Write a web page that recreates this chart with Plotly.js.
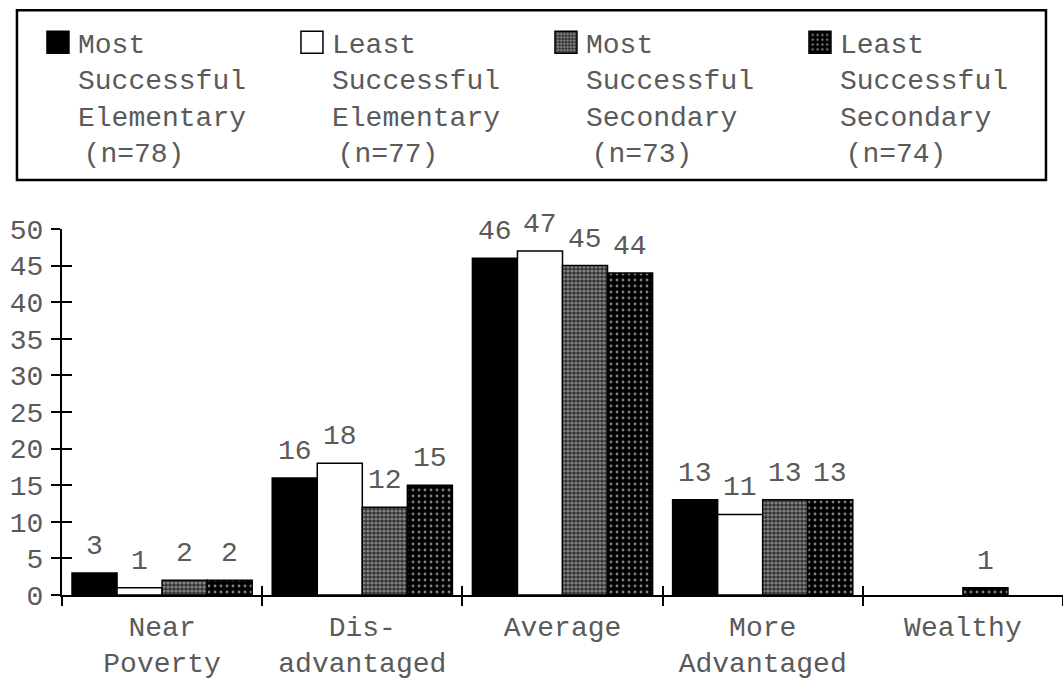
<!DOCTYPE html>
<html>
<head>
<meta charset="utf-8">
<script src="https://cdn.plot.ly/plotly-3.0.1.min.js"></script>
<style>
  html, body { margin: 0; padding: 0; background: #fff; }
  #chart { width: 1063px; height: 679px; }
</style>
</head>
<body>
<div id="chart"></div>
<script>
// Socioeconomic level of school communities, by school group
const categories = ['Near<br>Poverty', 'Dis-<br>advantaged', 'Average', 'More<br>Advantaged', 'Wealthy'];

const seriesNames = [
  'Most<br>Successful<br>Elementary<br>\u2009(n=78)',
  'Least<br>Successful<br>Elementary<br>\u2009(n=77)',
  'Most<br>Successful<br>Secondary<br>\u2009(n=73)',
  'Least<br>Successful<br>Secondary<br>\u2009(n=74)'
];

const mostElementary  = [3, 16, 46, 13, 0];
const leastElementary = [1, 18, 47, 11, 0];
const mostSecondary   = [2, 12, 45, 13, 0];
const leastSecondary  = [2, 15, 44, 13, 1];

const yTicks = [0, 5, 10, 15, 20, 25, 30, 35, 40, 45, 50];

// slot (0-3) each bar occupies inside its category group;
// the lone Wealthy bar sits in the third slot
const barSlots = [
  [0, 0, 0, 0, 0],
  [1, 1, 1, 1, 1],
  [2, 2, 2, 2, 2],
  [3, 3, 3, 3, 2]
];

const FONT = 'Liberation Mono, Courier New, monospace';
const GREY = '#5a5a5a';
const FS = 28;

const W = 1063, H = 679;
const M = { l: 62, r: 0, t: 229, b: 84 };
const GROUP_FRACTION = 0.9;

const seriesValues = [mostElementary, leastElementary, mostSecondary, leastSecondary];
const slotWidth = GROUP_FRACTION / seriesValues.length;   // in category units

const markers = [
  { color: '#000000', line: { color: '#000', width: 1.5 } },
  { color: '#ffffff', line: { color: '#000', width: 1.5 } },
  { color: '#444444', line: { color: '#000', width: 1.5 },
    pattern: { shape: '.', bgcolor: '#333333', fgcolor: '#d4d4d4', size: 4, solidity: 0.5, fillmode: 'overlay' } },
  { color: '#000000', line: { color: '#000', width: 1.5 },
    pattern: { shape: '.', bgcolor: '#000000', fgcolor: '#ffffff', size: 6, solidity: 0.18, fillmode: 'overlay' } }
];

// empty categories get no bar at all
const traces = seriesValues.map((vals, i) => ({
  type: 'bar',
  name: seriesNames[i],
  x: categories,
  y: vals.map(v => (v > 0 ? v : null)),
  width: slotWidth,
  offset: barSlots[i].map(s => -GROUP_FRACTION / 2 + s * slotWidth),
  marker: markers[i],
  hoverinfo: 'skip'
}));

// invisible helper so the crossing-tick axes are drawn
traces.push({
  type: 'scatter', x: [0], y: [0], xaxis: 'x2', yaxis: 'y2',
  mode: 'markers', marker: { opacity: 0 }, showlegend: false, hoverinfo: 'skip'
});

// value labels centred over each bar
const catWidthPx = (W - M.l - M.r) / categories.length;
const annotations = [];
seriesValues.forEach((vals, i) => {
  vals.forEach((v, j) => {
    if (v > 0) {
      const centre = -GROUP_FRACTION / 2 + (barSlots[i][j] + 0.5) * slotWidth;
      annotations.push({
        x: categories[j], y: v, xref: 'x', yref: 'y',
        text: String(v), showarrow: false,
        xanchor: 'center', yanchor: 'bottom',
        xshift: centre * catWidthPx,
        yshift: 9,
        font: { family: FONT, size: FS, color: GREY }
      });
    }
  });
});

const boundaries = categories.slice(0, -1).map((_, i) => i + 0.5);

const layout = {
  width: W,
  height: H,
  margin: M,
  paper_bgcolor: '#ffffff',
  plot_bgcolor: '#ffffff',
  font: { family: FONT, color: GREY, size: FS },
  barmode: 'overlay',
  showlegend: true,
  legend: {
    orientation: 'h',
    x: -0.024, xanchor: 'left',
    y: 1.578, yanchor: 'top',
    entrywidth: 209, entrywidthmode: 'pixels',
    valign: 'top',
    bgcolor: 'rgba(0,0,0,0)',
    borderwidth: 0,
    font: { family: FONT, size: FS, color: GREY },
    traceorder: 'normal'
  },
  annotations: annotations,
  shapes: [{
    type: 'rect', xref: 'paper', yref: 'paper',
    x0: -0.045, x1: 0.983, y0: 1.134, y1: 1.598,
    line: { color: '#000', width: 2.5 }, fillcolor: 'rgba(0,0,0,0)'
  }],
  xaxis: {
    type: 'category',
    range: [-0.5, 4.5],
    showline: true, linecolor: '#000', linewidth: 2,
    ticks: 'outside', tickson: 'boundaries', ticklen: 9, tickwidth: 2, tickcolor: '#000',
    ticklabelstandoff: 5,
    tickfont: { family: FONT, size: FS, color: GREY },
    showgrid: false, zeroline: false, fixedrange: true
  },
  yaxis: {
    range: [0, 50],
    tickvals: yTicks,
    showline: true, linecolor: '#000', linewidth: 2,
    ticks: 'outside', ticklen: 9, tickwidth: 2, tickcolor: '#000',
    tickfont: { family: FONT, size: FS, color: GREY },
    ticklabelstandoff: 2,
    showgrid: false, zeroline: false, fixedrange: true
  },
  xaxis2: {
    overlaying: 'x', anchor: 'y2', side: 'bottom',
    range: [-0.5, 4.5], tickvals: boundaries,
    ticks: 'inside', ticklen: 9, tickwidth: 2, tickcolor: '#000',
    showticklabels: false, showline: false, showgrid: false, zeroline: false, fixedrange: true
  },
  yaxis2: {
    overlaying: 'y', anchor: 'x2', side: 'left',
    range: [0, 50], tickvals: yTicks,
    ticks: 'inside', ticklen: 10, tickwidth: 2, tickcolor: '#000',
    showticklabels: false, showline: false, showgrid: false, zeroline: false, fixedrange: true
  }
};

Plotly.newPlot('chart', traces, layout, { displayModeBar: false, staticPlot: true }).then(gd => {
  // larger legend swatches
  gd.querySelectorAll('.legend .legendpoints path').forEach(p => {
    p.setAttribute('d', 'M11,11H-11V-11H11Z');
  });
});
</script>
</body>
</html>
